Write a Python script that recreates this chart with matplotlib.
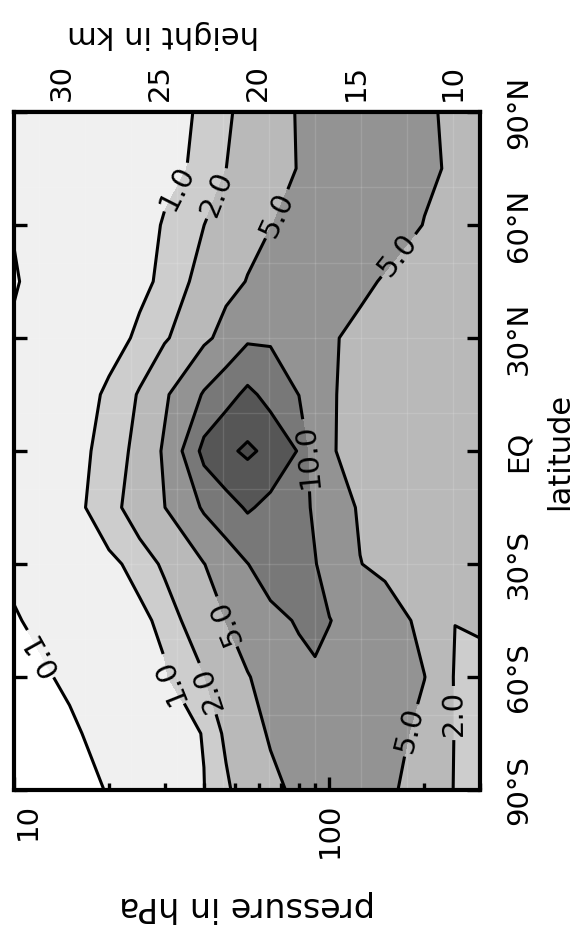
import numpy as np
import matplotlib
matplotlib.use("Agg")
import matplotlib.pyplot as plt
from matplotlib.ticker import MultipleLocator, NullFormatter, LogLocator

# grid of the field: pressure levels (hPa) and latitudes (deg)
pressure = [10, 15, 20, 25, 30, 40, 47, 55, 65, 80, 90, 100, 125, 150, 200, 250, 300]
latitude = [-90, -75, -60, -45, -30, -15, 0, 15, 30, 45, 60, 75, 90]

# one row per latitude (south to north), one column per pressure level
mixing_ratio = [
    [0.04, 0.07, 0.105, 0.43, 0.64, 0.98, 1.76, 2.89, 4.24, 5.75, 6.52, 7.21, 6.57, 5.63, 3.51, 1.89, 1.50],
    [0.05, 0.08, 0.15, 0.51, 0.70, 1.03, 2.26, 3.80, 5.32, 6.83, 7.68, 8.45, 7.26, 6.20, 4.10, 1.91, 1.50],
    [0.06, 0.12, 0.52, 0.74, 0.92, 1.95, 3.38, 4.81, 6.42, 8.42, 9.56, 8.96, 7.69, 6.65, 5.05, 1.80, 1.60],
    [0.08, 0.25, 0.66, 0.86, 1.16, 3.31, 5.06, 6.79, 8.64, 10.50, 10.78, 10.10, 8.17, 6.57, 4.05, 2.02, 2.18],
    [0.15, 0.59, 0.87, 1.20, 2.29, 4.91, 7.41, 9.91, 12.50, 12.00, 10.16, 8.52, 5.06, 4.30, 3.70, 3.30, 3.00],
    [0.30, 0.77, 1.39, 2.97, 4.94, 10.63, 13.14, 15.57, 13.60, 11.16, 9.48, 6.60, 4.68, 4.33, 3.70, 3.30, 3.00],
    [0.30, 0.45, 1.53, 2.30, 5.50, 16.50, 19.13, 20.78, 18.75, 14.64, 5.85, 5.20, 4.18, 3.60, 3.40, 3.20, 3.00],
    [0.30, 0.72, 1.09, 2.12, 4.39, 10.47, 13.32, 16.10, 13.35, 9.93, 7.43, 5.20, 4.28, 3.60, 3.45, 3.25, 3.00],
    [0.15, 0.54, 0.81, 1.09, 1.74, 4.17, 6.43, 9.30, 9.40, 7.41, 6.29, 5.28, 4.33, 3.70, 3.55, 3.30, 3.00],
    [0.07, 0.43, 0.69, 0.89, 1.10, 2.61, 3.89, 5.15, 6.73, 8.70, 8.01, 7.23, 5.57, 4.73, 4.01, 3.45, 3.00],
    [0.12, 0.45, 0.68, 0.86, 1.03, 1.99, 2.96, 3.91, 4.92, 6.02, 6.63, 7.19, 7.26, 6.33, 4.91, 4.19, 3.60],
    [0.25, 0.49, 0.67, 0.80, 0.91, 1.08, 1.99, 2.92, 3.92, 5.13, 5.73, 6.26, 7.40, 6.90, 5.48, 4.59, 4.00],
    [0.30, 0.52, 0.67, 0.80, 0.89, 1.05, 1.85, 2.36, 3.84, 5.22, 5.78, 6.33, 7.50, 6.66, 5.32, 4.54, 4.00],
]

levels = [0.1, 1.0, 2.0, 5.0, 10.0, 15.0, 20.0]
labelled_levels = [0.1, 1.0, 2.0, 5.0, 10.0]
fill_colors = ["#ffffff", "#f0f0f0", "#cdcdcd", "#b9b9b9", "#939393",
               "#787878", "#565656", "#4a4a4a"]

lat_ticks = [-90, -60, -30, 0, 30, 60, 90]
lat_labels = ["90°S", "60°S", "30°S", "EQ", "30°N", "60°N", "90°N"]
p_ticks = [10, 100]
p_labels = ["10", "100"]
z_ticks = [10, 15, 20, 25, 30]

# faint boxes of the underlying data cells
cell_edges_p = [12.0, 16.8, 23.5, 32.9, 46.0, 64.2, 90.0, 126.0, 176.0, 246.0]
cell_edges_lat = [-70, -50, -30, -10, 10, 30, 50, 70]

# where the contour labels sit (pressure, latitude)
label_spots = [
    (11.9, -54.2),
    (30.8, 71.2), (31.2, -60.8),
    (42.5, 68.8), (39.5, -63.5), (229, -69.6),
    (65.9, 63.4), (163, 52.3), (46.7, -45.4), (180, -74.1),
    (85, -1.1),
]

SCALE_HEIGHT = 7.0
P_SURFACE = 1030.0


def p_to_z(p):
    return SCALE_HEIGHT * np.log(P_SURFACE / np.asarray(p, dtype=float))


def z_to_p(z):
    return P_SURFACE * np.exp(-np.asarray(z, dtype=float) / SCALE_HEIGHT)


W, H = 575, 941
fig = plt.figure(figsize=(W / 100, H / 100), dpi=100)
ax = fig.add_axes([14 / W, 151 / H, 466 / W, 678 / H])

P, LAT = np.meshgrid(pressure, latitude)
Z = np.array(mixing_ratio)

ax.contourf(P, LAT, Z, levels=[0] + levels + [30], colors=fill_colors)

for p in cell_edges_p:
    ax.axvline(p, color="white", lw=1.0, alpha=0.13, zorder=1.5)
for lat in cell_edges_lat:
    ax.axhline(lat, color="white", lw=1.0, alpha=0.13, zorder=1.5)

cs = ax.contour(P, LAT, Z, levels=levels, colors="k", linewidths=2.2)

ax.set_xscale("log")
ax.set_xlim(10, 300)
ax.set_ylim(-90, 90)

ax.clabel(cs, levels=labelled_levels, manual=label_spots, fmt="%.1f",
          fontsize=21, inline=True, inline_spacing=4)
# the labels read upward along the lines
for t in cs.labelTexts:
    r = t.get_rotation() % 360
    if r >= 180:
        r -= 180
    t.set_rotation(r)

# pressure axis (bottom)
ax.set_xticks(p_ticks, labels=p_labels)
ax.xaxis.set_minor_locator(LogLocator(base=10, subs=np.arange(2, 10)))
ax.xaxis.set_minor_formatter(NullFormatter())
ax.tick_params(axis="x", which="both", direction="in", top=False, bottom=True,
               width=2.4, labelsize=21, labelrotation=90, pad=9)
ax.tick_params(axis="x", which="major", length=9.5)
ax.tick_params(axis="x", which="minor", length=5)
ax.xaxis.get_major_ticks()[0].label1.set_ha("left")

# latitude axis (labels on the right)
ax.set_yticks(lat_ticks, labels=lat_labels)
ax.tick_params(axis="y", which="both", direction="in", left=True, right=True,
               labelleft=False, labelright=True, length=9.5, width=2.4,
               labelsize=21, labelrotation=90, pad=18)
for tick in ax.yaxis.get_major_ticks():
    tick.label2.set_va("center")

for sp in ax.spines.values():
    sp.set_linewidth(3)
    sp.set_zorder(5)

# height axis (top)
sec = ax.secondary_xaxis("top", functions=(p_to_z, z_to_p))
sec.set_xticks(z_ticks, labels=[str(z) for z in z_ticks])
sec.xaxis.set_minor_locator(MultipleLocator(1))
sec.xaxis.set_minor_formatter(NullFormatter())
sec.tick_params(axis="x", which="both", direction="in", width=2.4,
                labelsize=21, labelrotation=90, pad=8)
sec.tick_params(axis="x", which="major", length=9.5)
sec.tick_params(axis="x", which="minor", length=4.5)
sec.spines["top"].set_linewidth(3)

fig.text(247 / W, 1 - 907 / H, "pressure in hPa", rotation=180, fontsize=24,
         ha="center", va="center")
fig.text(163 / W, 1 - 34 / H, "height in km", rotation=180, fontsize=22,
         ha="center", va="center")
fig.text(574 / W, 1 - 451 / H, "latitude", rotation=90, fontsize=22,
         ha="right", va="center")

fig.savefig("out.png", dpi=100)
